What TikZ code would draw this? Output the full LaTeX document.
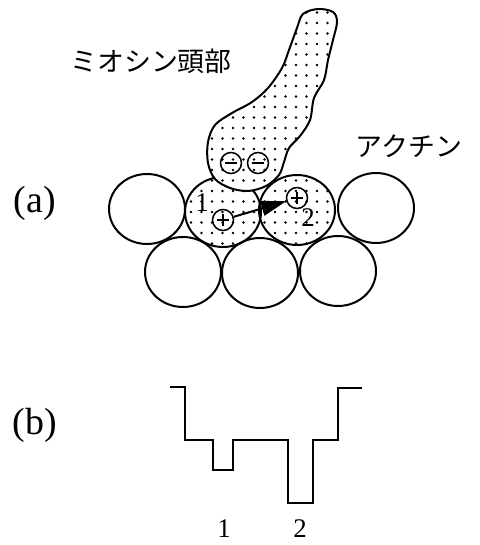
\documentclass[tikz,border=0pt]{standalone}
\usepackage{fontspec}
\setmainfont{Liberation Serif}
\newfontfamily\jpfont{Noto Sans CJK JP}
\usetikzlibrary{arrows.meta}
\begin{document}
\begin{tikzpicture}[x=1bp,y=-1bp,
  outline/.style={line width=2bp, line join=round},
  charge/.style={circle, draw, line width=1.5bp, minimum size=21bp, inner sep=0pt},
  minuscharge/.style={charge, path picture={
      \draw[line width=1.8bp] ([xshift=-6bp]path picture bounding box.center) -- ([xshift=6bp]path picture bounding box.center);}},
  pluscharge/.style={charge, path picture={
      \draw[line width=1.8bp] ([xshift=-6bp]path picture bounding box.center) -- ([xshift=6bp]path picture bounding box.center)
        ([yshift=-6bp]path picture bounding box.center) -- ([yshift=6bp]path picture bounding box.center);}},
  jplabel/.style={font=\jpfont\fontsize{27}{30}\selectfont, inner sep=0pt},
  partlabel/.style={font=\fontsize{38}{40}\selectfont, inner sep=0pt},
  numlabel/.style={font=\fontsize{27}{30}\selectfont, inner sep=0pt},
  energy/.style={line width=2bp, line join=miter}]
\useasboundingbox (0,0) rectangle (480,545);

% dotted actin monomers (binding sites 1 and 2)
\foreach \cx/\cy in {223/212, 297/210}{
  \begin{scope}
    \clip (\cx,\cy) ellipse [x radius=38, y radius=35];
    \foreach \i in {17,...,33}
      \foreach \j in {15,...,25}
        \fill (2+\i*10.5, 2+\j*10.5) circle (1.3);
  \end{scope}
}

% actin filament: top and bottom rows of monomers
\foreach \cx/\cy in {147/209, 223/212, 297/210, 376/208, 183/272, 260/273, 338/271}
  \draw[outline] (\cx,\cy) ellipse [x radius=38, y radius=35];

% myosin head outline
\def\myosin{plot[smooth cycle, tension=0.55] coordinates {
  (303,14) (318,9) (333,12) (337,22) (333,40) (328,60) (324,80) (314,98)
  (310,120) (300,136) (289,148) (284,162) (279,175) (266,186) (248,191)
  (230,188) (215,179) (208,163) (208,142) (215,125) (232,113) (252,102)
  (268,88) (282,68) (289,50) (297,28)}}
\fill[white] \myosin;
\begin{scope}
  \clip \myosin;
  \foreach \i in {18,...,33}
    \foreach \j in {0,...,19}
      \fill (2+\i*10.5, 2+\j*10.5) circle (1.3);
\end{scope}
\draw[outline] \myosin;

% charges
\node[minuscharge] (m1) at (231,163) {};
\node[minuscharge] (m2) at (258,163) {};
\node[pluscharge] (p1) at (223,220) {};
\node[pluscharge] (p2) at (297,198) {};
\draw[line width=2bp, -{Triangle[length=25bp, width=15bp]}] (p1) -- (p2);

% labels
\node[jplabel] (myosinlabel) at (151,61) {ミオシン頭部};
\node[jplabel] (actinlabel) at (409,146) {アクチン};
\node[partlabel] (la) at (35,203) {(a)};
\node[partlabel] (lb) at (35,425) {(b)};
\node[numlabel] (s1) at (202,203) {1};
\node[numlabel] (s2) at (308,218) {2};

% binding energy profile
\draw[energy] (170,387) -| (185,440) -| (213,470) -| (233,440) -| (288,503)
  -| (313,440) -| (338,388) -- (362,388);
\node[numlabel] (e1) at (224,529) {1};
\node[numlabel] (e2) at (300,529) {2};
\end{tikzpicture}
\end{document}
